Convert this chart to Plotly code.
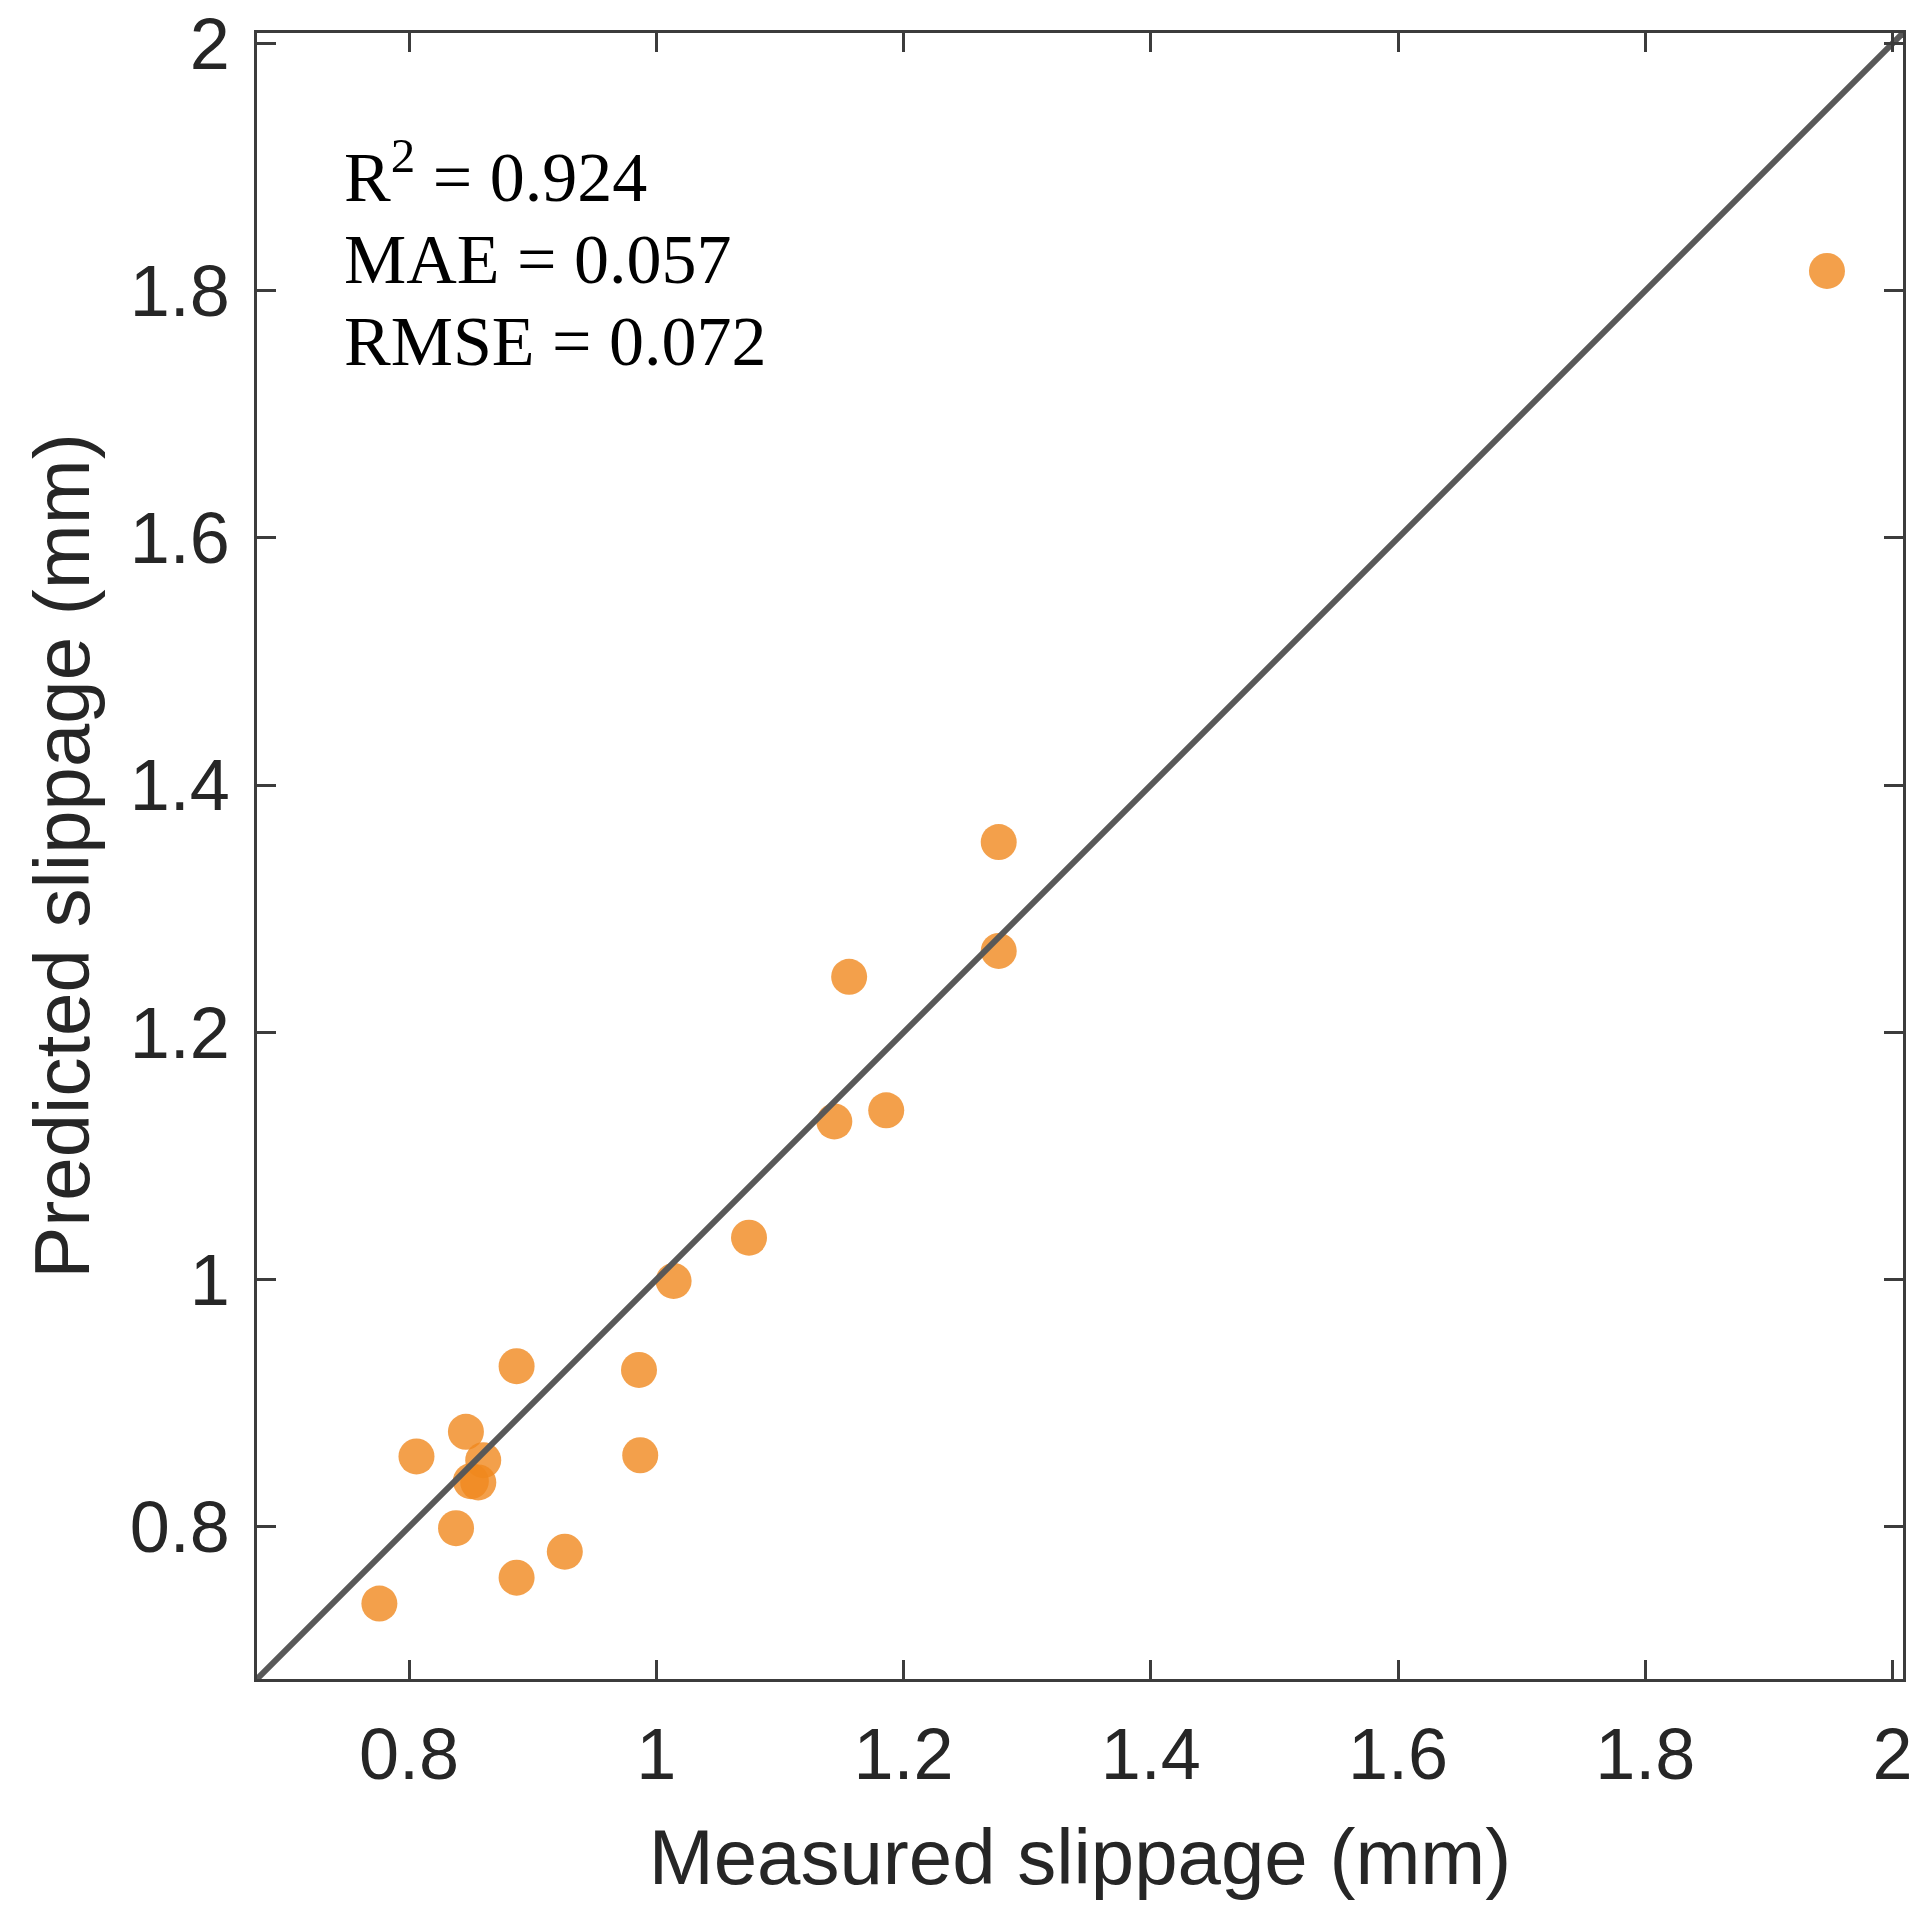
import plotly.graph_objects as go

# Measured vs predicted slippage (mm)
measured = [1.947, 1.277, 1.277, 1.156, 1.186, 1.144, 1.075, 1.014, 0.887, 0.986,
            0.846, 0.806, 0.987, 0.860, 0.850, 0.856, 0.838, 0.926, 0.887, 0.776]
predicted = [1.816, 1.354, 1.266, 1.245, 1.137, 1.128, 1.034, 0.999, 0.930, 0.927,
             0.877, 0.857, 0.858, 0.854, 0.837, 0.836, 0.799, 0.780, 0.759, 0.738]

axis_range = [0.677, 2.0085]
ref_line = [0.677, 2.0085]
tick_vals = [0.8, 1.0, 1.2, 1.4, 1.6, 1.8, 2.0]
tick_text = ["0.8", "1", "1.2", "1.4", "1.6", "1.8", "2"]

stats_lines = ["R<sup>2</sup> = 0.924", "MAE = 0.057", "RMSE = 0.072"]
x_title = "Measured slippage (mm)"
y_title = "Predicted slippage (mm)"

W, H = 1932, 1928
ML, MR, MT, MB = 257, 29, 33, 249
PW = W - ML - MR
PH = H - MT - MB

fig = go.Figure()
fig.add_trace(go.Scatter(
    x=measured, y=predicted, mode="markers",
    marker=dict(size=36, color="rgb(240,136,30)", opacity=0.8, line=dict(width=0)),
    showlegend=False, hoverinfo="skip"))
fig.add_trace(go.Scatter(
    x=ref_line, y=ref_line, mode="lines",
    line=dict(color="rgb(88,88,88)", width=6),
    showlegend=False, hoverinfo="skip"))

axis_common = dict(
    range=axis_range, tickvals=tick_vals, ticktext=tick_text,
    ticks="inside", ticklen=19, tickwidth=2.5, tickcolor="rgb(60,60,60)",
    showline=True, linecolor="rgb(60,60,60)", linewidth=2.5, mirror="ticks",
    showgrid=False, zeroline=False,
    tickfont=dict(family="Liberation Sans, Arial, sans-serif", size=72, color="rgb(38,38,38)"),
    automargin=False,
)

fig.update_layout(
    width=W, height=H,
    margin=dict(l=ML, r=MR, t=MT, b=MB, pad=0),
    paper_bgcolor="white", plot_bgcolor="white",
    xaxis=dict(**axis_common, ticklabelstandoff=11,
               title=dict(text=x_title, standoff=37,
                          font=dict(family="Liberation Sans, Arial, sans-serif", size=78, color="rgb(38,38,38)"))),
    yaxis=dict(**axis_common, ticklabelstandoff=10,
               title=dict(text=y_title, standoff=15,
                          font=dict(family="Liberation Sans, Arial, sans-serif", size=78, color="rgb(38,38,38)"))),
)

baselines = [201.7, 282.7, 365.0]
for i, (txt, bl) in enumerate(zip(stats_lines, baselines)):
    mid = bl - 23.6 - (6.0 if i == 0 else 0)
    fig.add_annotation(
        text=txt, xref="paper", yref="paper",
        x=(341.7 - ML) / PW, y=(H - MB - mid) / PH,
        xanchor="left", yanchor="middle", showarrow=False,
        font=dict(family="Liberation Serif, Times New Roman, serif", size=70, color="black"),
    )

fig.write_html("out.html", config={"displayModeBar": False},
               post_script="document.body.style.margin='0';")
